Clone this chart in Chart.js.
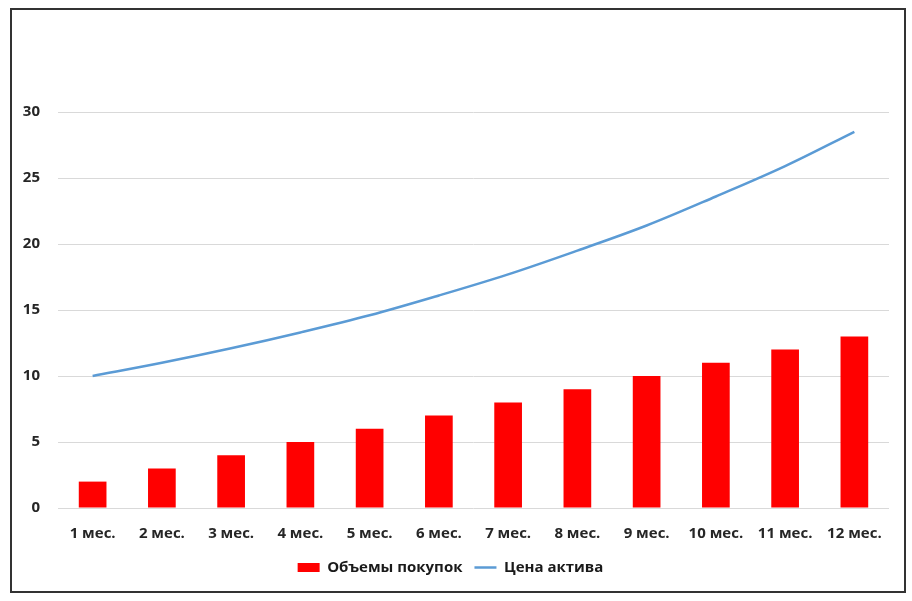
<!DOCTYPE html>
<html>
<head>
<meta charset="utf-8">
<script src="https://cdn.jsdelivr.net/npm/chart.js@4/dist/chart.umd.min.js"></script>
<style>
  body { margin: 0; background: #fff; }
  #box {
    position: absolute; left: 10px; top: 8px;
    width: 896px; height: 585px;
    box-sizing: border-box;
    border: 2px solid #333;
    background: #fff;
  }
  canvas { display: block; }
</style>
</head>
<body>
<div id="box"><canvas id="chart" width="892" height="581"></canvas></div>
<script>
const months = ["1 мес.", "2 мес.", "3 мес.", "4 мес.", "5 мес.", "6 мес.",
                "7 мес.", "8 мес.", "9 мес.", "10 мес.", "11 мес.", "12 мес."];
const volumes = [2, 3, 4, 5, 6, 7, 8, 9, 10, 11, 12, 13];
const prices = [10, 11, 12.1, 13.3, 14.6, 16.1, 17.7, 19.5, 21.4, 23.6, 25.9, 28.5];

const tickFont = { family: "Open Sans", size: 15, weight: "bold" };

new Chart(document.getElementById("chart").getContext("2d"), {
    data: {
        labels: months,
        datasets: [
            {
                type: "bar",
                label: "Объемы покупок",
                data: volumes,
                backgroundColor: "#ff0000",
                borderWidth: 0,
                barPercentage: 1,
                categoryPercentage: 0.4,
                pointStyle: "rect",
                order: 2
            },
            {
                type: "line",
                label: "Цена актива",
                data: prices,
                borderColor: "#5b9bd5",
                backgroundColor: "#5b9bd5",
                borderWidth: 2.5,
                pointRadius: 0,
                tension: 0.35,
                pointStyle: "line",
                order: 1
            }
        ]
    },
    options: {
        responsive: false,
        animation: false,
        layout: { padding: { top: 102, right: 15, left: 0, bottom: 6 } },
        scales: {
            x: {
                grid: { display: false, drawTicks: false },
                border: { display: false },
                ticks: { color: "#262626", font: tickFont, padding: 17, maxRotation: 0 },
                afterFit: a => { a.height = 40; }
            },
            y: {
                min: 0,
                max: 30,
                ticks: { stepSize: 5, color: "#262626", font: tickFont, padding: 18 },
                grid: { color: "#d9d9d9", lineWidth: 1, drawTicks: false },
                border: { display: false },
                afterFit: a => { a.width = 46; }
            }
        },
        plugins: {
            tooltip: { enabled: false },
            legend: {
                position: "bottom",
                labels: {
                    usePointStyle: true,
                    pointStyleWidth: 22,
                    boxHeight: 9,
                    padding: 12,
                    color: "#1a1a1a",
                    font: { family: "Open Sans", size: 15, weight: "bold" },
                    sort: (a, b) => a.datasetIndex - b.datasetIndex
                }
            }
        }
    }
});
</script>
</body>
</html>
